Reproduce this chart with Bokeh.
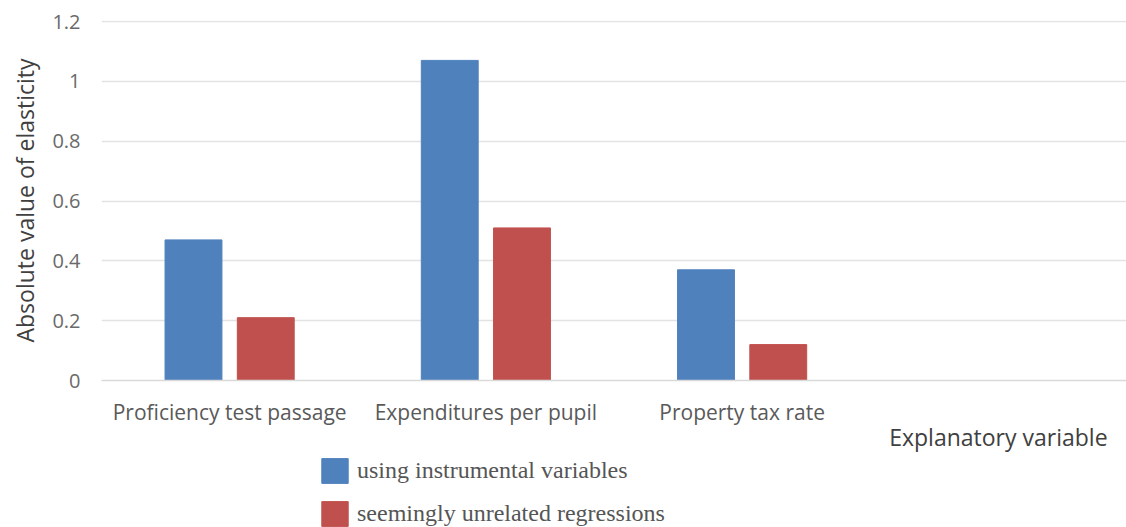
import numpy as np
from bokeh.plotting import figure
from bokeh.models import (Range1d, Legend, LegendItem, ColumnDataSource,
                          FixedTicker, LinearAxis)
from bokeh.layouts import column
from bokeh.embed import file_html
from bokeh.resources import INLINE

categories = ["Proficiency test passage", "Expenditures per pupil", "Property tax rate"]
instrumental = [0.47, 1.07, 0.37]
sur = [0.21, 0.51, 0.12]
series_names = ["using instrumental variables", "seemingly unrelated regressions"]
y_ticks = [0, 0.2, 0.4, 0.6, 0.8, 1.0, 1.2]
x_title = "Explanatory variable"

blue = "#4f81bd"
red = "#c0504d"
font = "Open Sans"

n_slots = len(categories) + 1          # an empty fourth slot holds the axis title
centers = np.arange(len(categories)) + 0.5
offset = 0.141
bar_w = 0.222

src = ColumnDataSource(dict(xa=centers - offset, xb=centers + offset, a=instrumental, b=sur))

p = figure(width=1126, height=452, frame_width=1025, frame_height=360,
           output_backend="svg", toolbar_location=None,
           x_range=Range1d(0, n_slots), y_range=Range1d(0, 1.2 * 360 / 359),
           x_axis_location=None,
           min_border_left=101, min_border_right=0, min_border_top=20, min_border_bottom=72)
p.outline_line_color = None
p.background_fill_color = "white"
p.border_fill_color = "white"

r1 = p.vbar(x="xa", top="a", width=bar_w, source=src, fill_color=blue, line_color=blue)
r2 = p.vbar(x="xb", top="b", width=bar_w, source=src, fill_color=red, line_color=red)

p.xgrid.grid_line_color = None
p.ygrid.grid_line_color = "#e3e3e3"
p.ygrid.grid_line_width = 1.5
p.ygrid.ticker = FixedTicker(ticks=y_ticks)
p.yaxis.ticker = FixedTicker(ticks=y_ticks)
p.yaxis.major_label_overrides = {0: "0", 1: "1", 1.2: "1.2"}
p.yaxis.axis_line_color = None
p.yaxis.major_tick_line_color = None
p.yaxis.minor_tick_line_color = None
p.yaxis.major_label_text_font = font
p.yaxis.major_label_text_font_size = "20px"
p.yaxis.major_label_text_color = "#6a6a6a"
p.yaxis.major_label_standoff = 15
p.yaxis.axis_label = "Absolute value of elasticity"
p.yaxis.axis_label_text_font = font
p.yaxis.axis_label_text_font_size = "23px"
p.yaxis.axis_label_text_font_style = "normal"
p.yaxis.axis_label_text_color = "#404040"
p.yaxis.axis_label_standoff = 8

# category axis
ax1 = LinearAxis(ticker=FixedTicker(ticks=list(centers)),
                 major_label_overrides={float(c): name for c, name in zip(centers, categories)},
                 axis_line_color="#d9d9d9", axis_line_width=1.5,
                 major_tick_line_color=None, minor_tick_line_color=None,
                 major_tick_out=0, minor_tick_out=0,
                 major_label_text_font=font, major_label_text_font_size="21px",
                 major_label_text_color="#595959", major_label_standoff=17)
p.add_layout(ax1, "below")

# axis title under the empty fourth slot
title_pos = n_slots - 0.5
ax2 = LinearAxis(ticker=FixedTicker(ticks=[title_pos]),
                 axis_line_color=None, major_tick_line_color=None,
                 minor_tick_line_color=None, major_tick_out=0, minor_tick_out=0,
                 major_label_standoff=-8,
                 major_label_text_font=font, major_label_text_font_size="23px",
                 major_label_text_color="#404040",
                 major_label_overrides={title_pos: x_title})
p.add_layout(ax2, "below")

# legend strip under the chart (its bars sit outside its own view, only the key shows)
q = figure(width=1126, height=75, output_backend="svg", toolbar_location=None,
           x_range=Range1d(0, n_slots), y_range=Range1d(2, 3),
           x_axis_type=None, y_axis_type=None,
           min_border_left=0, min_border_right=0, min_border_top=0, min_border_bottom=0)
q.outline_line_color = None
q.grid.grid_line_color = None
q.border_fill_color = "white"
g1 = q.vbar(x="xa", top="a", width=bar_w, source=src, fill_color=blue, line_color=blue)
g2 = q.vbar(x="xb", top="b", width=bar_w, source=src, fill_color=red, line_color=red)
legend = Legend(items=[LegendItem(label=series_names[0], renderers=[g1]),
                       LegendItem(label=series_names[1], renderers=[g2])],
                location=(217, 1), orientation="vertical",
                glyph_width=33, glyph_height=31, label_height=31, spacing=12,
                padding=0, margin=0, border_line_color=None, background_fill_alpha=0,
                label_text_font="Liberation Serif", label_text_font_size="24px",
                label_text_color="#555555", label_standoff=6)
q.add_layout(legend, "center")

open("out.html", "w").write(file_html(column(p, q, spacing=0), INLINE))
